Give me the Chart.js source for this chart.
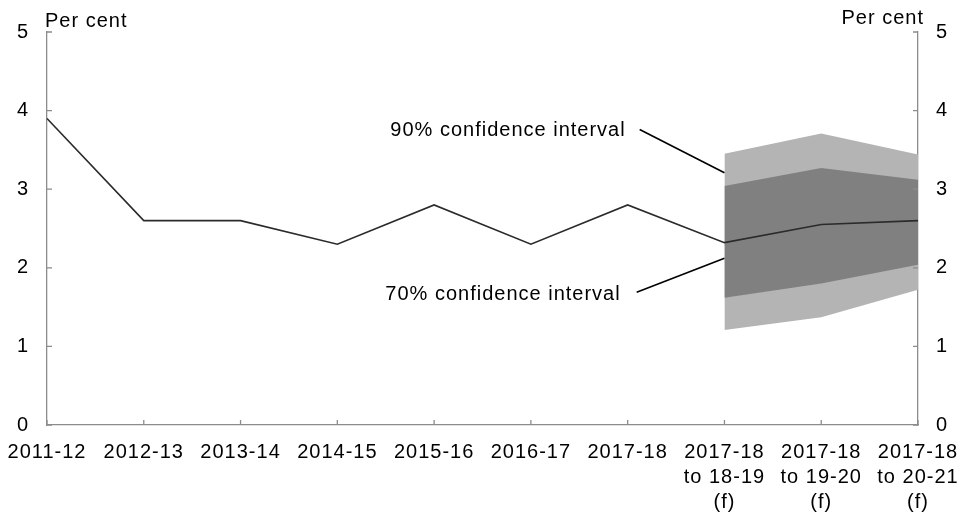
<!DOCTYPE html>
<html>
<head>
<meta charset="utf-8">
<script src="https://cdn.jsdelivr.net/npm/chart.js@4.4.1/dist/chart.umd.min.js"></script>
<style>
  html, body { margin: 0; padding: 0; background: #fff; }
  #wrap { width: 960px; height: 515px; }
</style>
</head>
<body>
<div id="wrap"><canvas id="forecast_chart"></canvas></div>
<script>
// Chart data
const categories = [
    '2011-12', '2012-13', '2013-14', '2014-15', '2015-16', '2016-17', '2017-18',
    ['2017-18', 'to 18-19', '(f)'],
    ['2017-18', 'to 19-20', '(f)'],
    ['2017-18', 'to 20-21', '(f)']
];
const growth   = [3.9, 2.6, 2.6, 2.3, 2.8, 2.3, 2.8, 2.32, 2.55, 2.6];
const ci90Low  = [null, null, null, null, null, null, null, 1.21, 1.37, 1.72];
const ci90High = [null, null, null, null, null, null, null, 3.45, 3.71, 3.44];
const ci70Low  = [null, null, null, null, null, null, null, 1.62, 1.80, 2.04];
const ci70High = [null, null, null, null, null, null, null, 3.04, 3.27, 3.12];
const yTicks   = [0, 1, 2, 3, 4, 5];
const axisTitle = 'Per cent';

// annotation anchors: [category index, pixel nudge, value]
const notes = [
    { text: '90% confidence interval', at: [6, -2, 3.75], from: [6, 12, 3.76], to: [7, 0, 3.21] },
    { text: '70% confidence interval', at: [6, -7, 1.66], from: [6, 9, 1.69], to: [7, 0, 2.12] }
];

const FONT = '"Liberation Sans", Arial, sans-serif';
const AXIS_COLOR = '#8c8c8c';

// loose letter spacing like the original
const spacing = {
    id: 'spacing',
    beforeUpdate(chart) { chart.ctx.letterSpacing = '1px'; },
    beforeDraw(chart) { chart.ctx.letterSpacing = '1px'; }
};

// inward tick marks on all three axes
const innerTicks = {
    id: 'innerTicks',
    afterDatasetsDraw(chart) {
        const { ctx, chartArea: a, scales } = chart;
        ctx.save();
        ctx.strokeStyle = AXIS_COLOR;
        ctx.lineWidth = 1.3;
        ctx.beginPath();
        scales.x.ticks.forEach((t, i) => {
            const px = scales.x.getPixelForTick(i);
            ctx.moveTo(px, a.bottom);
            ctx.lineTo(px, a.bottom - 5);
        });
        scales.y.ticks.forEach(t => {
            const py = scales.y.getPixelForValue(t.value);
            ctx.moveTo(a.left, py);
            ctx.lineTo(a.left + 5, py);
        });
        scales.y2.ticks.forEach(t => {
            const py = scales.y2.getPixelForValue(t.value);
            ctx.moveTo(a.right, py);
            ctx.lineTo(a.right - 5, py);
        });
        ctx.stroke();
        ctx.restore();
    }
};

// "Per cent" labels and the confidence interval notes
const annotations = {
    id: 'annotations',
    afterDraw(chart) {
        const { ctx, chartArea: a, scales } = chart;
        const x = scales.x, y = scales.y;
        const pt = p => [x.getPixelForValue(p[0]) + p[1], y.getPixelForValue(p[2])];
        ctx.save();
        ctx.letterSpacing = '1px';
        ctx.fillStyle = '#000';
        ctx.font = '20px ' + FONT;
        ctx.textBaseline = 'alphabetic';
        ctx.textAlign = 'left';
        ctx.fillText(axisTitle, a.left - 2, 26.5);
        ctx.textAlign = 'right';
        ctx.fillText(axisTitle, a.right + 6, 23.5);

        ctx.textBaseline = 'middle';
        ctx.strokeStyle = '#000';
        ctx.lineWidth = 1.6;
        notes.forEach(n => {
            const t = pt(n.at), f = pt(n.from), e = pt(n.to);
            ctx.textAlign = 'right';
            ctx.fillText(n.text, t[0], t[1]);
            ctx.beginPath();
            ctx.moveTo(f[0], f[1]);
            ctx.lineTo(e[0], e[1]);
            ctx.stroke();
        });
        ctx.restore();
    }
};

function yAxis(position, width) {
    return {
        position: position,
        min: 0,
        max: 5,
        afterBuildTicks: s => { s.ticks = yTicks.map(v => ({ value: v })); },
        afterFit: s => { s.width = width; },
        grid: { display: false, drawTicks: false },
        border: { display: true, color: AXIS_COLOR, width: 1.3 },
        ticks: {
            color: '#000',
            padding: 18,
            font: { size: 20, family: FONT }
        }
    };
}

new Chart(document.getElementById('forecast_chart'), {
    type: 'line',
    data: {
        labels: categories,
        datasets: [{
            label: 'Growth',
            data: growth,
            borderColor: '#2b2b2b',
            borderWidth: 1.6,
            pointRadius: 0,
            fill: false,
            order: 0
        }, {
            label: '90% low',
            data: ci90Low,
            borderWidth: 0,
            pointRadius: 0,
            fill: false,
            order: 3
        }, {
            label: '90% confidence interval',
            data: ci90High,
            borderWidth: 0,
            pointRadius: 0,
            backgroundColor: '#b4b4b4',
            fill: { target: 1 },
            order: 3
        }, {
            label: '70% low',
            data: ci70Low,
            borderWidth: 0,
            pointRadius: 0,
            fill: false,
            order: 2
        }, {
            label: '70% confidence interval',
            data: ci70High,
            borderWidth: 0,
            pointRadius: 0,
            backgroundColor: '#808080',
            fill: { target: 3 },
            order: 2
        }]
    },
    options: {
        responsive: true,
        maintainAspectRatio: false,
        animation: false,
        layout: { padding: { top: 32, left: 0, right: 0, bottom: 0 } },
        plugins: {
            legend: { display: false },
            tooltip: { enabled: false },
            title: { display: false }
        },
        scales: {
            x: {
                type: 'category',
                offset: false,
                afterFit: s => {
                    s.height = 90;
                    s.paddingLeft = 0;
                    s.paddingRight = 0;
                },
                grid: { display: false, drawTicks: false },
                border: { display: true, color: AXIS_COLOR, width: 1.3 },
                ticks: {
                    color: '#000',
                    padding: 15,
                    autoSkip: false,
                    maxRotation: 0,
                    font: { size: 20, family: FONT, lineHeight: 1.24 }
                }
            },
            y: yAxis('left', 47),
            y2: yAxis('right', 42)
        }
    },
    plugins: [spacing, innerTicks, annotations]
});
</script>
</body>
</html>
